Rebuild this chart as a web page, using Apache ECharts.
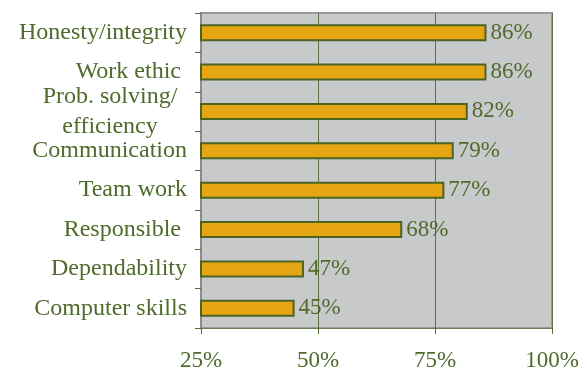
<!DOCTYPE html>
<html><head><meta charset="utf-8">
<script src="https://cdn.jsdelivr.net/npm/echarts@6/dist/echarts.min.js"></script>
<style>html,body{margin:0;padding:0;background:#fff}#c{width:585px;height:372px}</style>
</head><body><div id="c"></div>
<script>
const categories = ['Honesty/integrity', 'Work ethic ', 'Prob. solving/\nefficiency', 'Communication', 'Team work', 'Responsible ', 'Dependability', 'Computer skills'];
const values = [86, 86, 82, 79, 77, 68, 47, 45];
const xMin = 25, xMax = 100, xStep = 25;

const green = '#4f6a2a';
const font = 'Liberation Serif';
const chart = echarts.init(document.getElementById('c'), null, {renderer: 'canvas'});
chart.setOption({
  animation: false,
  backgroundColor: '#ffffff',
  grid: {left: 201, right: 33, top: 13, bottom: 43, containLabel: false, show: true,
         backgroundColor: '#c8c9cb', borderColor: '#9a9a9a', borderWidth: 2},
  xAxis: {
    type: 'value', min: xMin, max: xMax, interval: xStep,
    axisLine: {show: true, lineStyle: {color: '#6b7f52', width: 1}},
    axisTick: {show: true, length: 6, lineStyle: {color: green}},
    splitLine: {show: true, lineStyle: {color: '#5d7040', width: 1}},
    axisLabel: {formatter: '{value}%', color: green, fontFamily: font, fontSize: 23, margin: 21}
  },
  yAxis: {
    type: 'category', inverse: true, data: categories,
    axisLine: {show: true, lineStyle: {color: '#8c8c8c', width: 2}},
    axisTick: {show: true, length: 6, alignWithLabel: false, lineStyle: {color: green}},
    axisLabel: {
      color: green, fontFamily: font, fontSize: 24, margin: 14, lineHeight: 30,
      formatter: function (v) {
        if (v.indexOf('\n') >= 0) {
          return v.split('\n').map(function (s) { return '{p|' + s + '}'; }).join('\n');
        }
        return v;
      },
      rich: {p: {width: 154, align: 'center', color: green, fontFamily: font, fontSize: 24, lineHeight: 30}}
    }
  },
  series: [{
    type: 'bar', data: values, barWidth: 17,
    itemStyle: {color: '#e6a513', borderColor: '#4a6424', borderWidth: 2},
    label: {show: true, position: 'right', distance: 4, formatter: '{c}%', color: green, fontFamily: font, fontSize: 23}
  }]
});
</script></body></html>
